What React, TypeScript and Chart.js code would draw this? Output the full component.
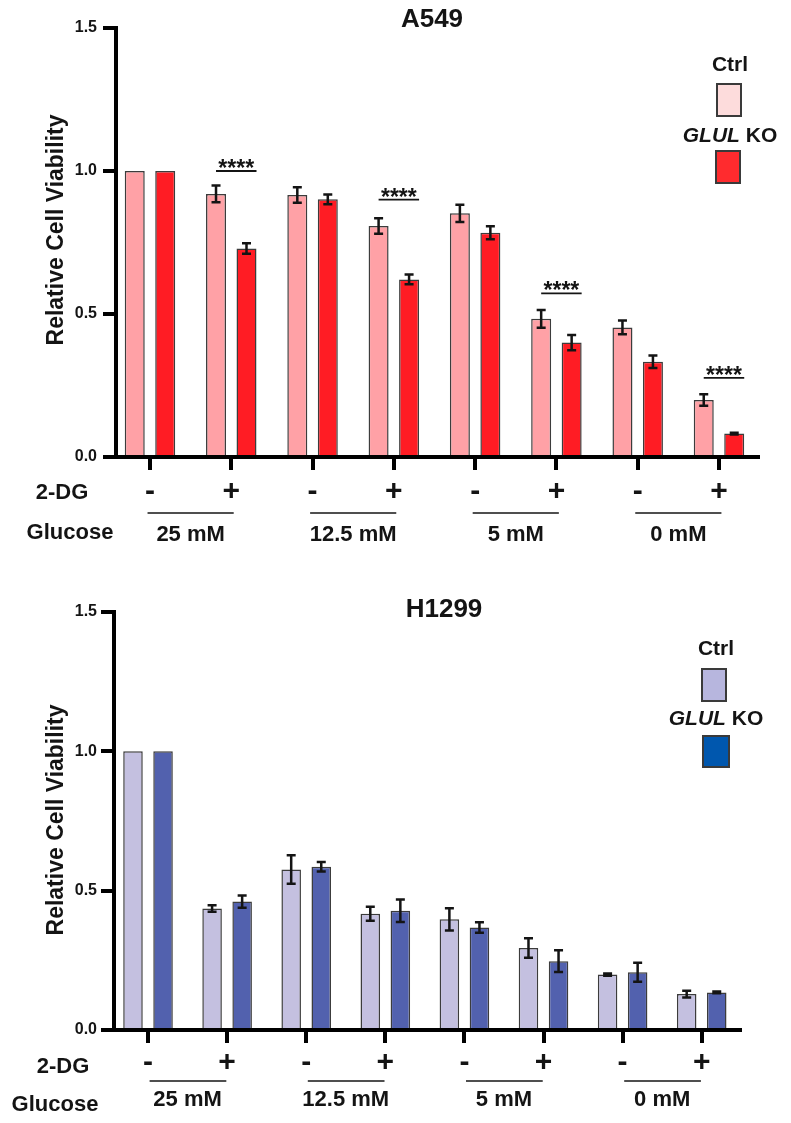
import React, { useEffect, useRef } from "react";
import { Chart, registerables } from "chart.js";

Chart.register(...registerables);

// ---------- data ----------
const GLUCOSE_LABELS = ["25 mM", "12.5 mM", "5 mM", "0 mM"];
const DG_LABELS = ["-", "+", "-", "+", "-", "+", "-", "+"];
const SERIES_NAMES = ["Ctrl", "GLUL KO"];

const A549_CTRL = [1.0, 0.92, 0.916, 0.808, 0.852, 0.483, 0.453, 0.199];
const A549_CTRL_ERR = [0, 0.029, 0.027, 0.027, 0.03, 0.031, 0.024, 0.02];
const A549_KO = [1.0, 0.729, 0.901, 0.621, 0.784, 0.4, 0.333, 0.082];
const A549_KO_ERR = [0, 0.018, 0.017, 0.017, 0.023, 0.027, 0.022, 0.003];
const A549_SIG_INDEX = [1, 3, 5, 7];
const A549_SIG_LEVEL = [1.0, 0.9, 0.572, 0.277];
const SIG_TEXT = "****";

const H1299_CTRL = [1.0, 0.436, 0.576, 0.417, 0.397, 0.294, 0.199, 0.129];
const H1299_CTRL_ERR = [0, 0.012, 0.051, 0.025, 0.04, 0.035, 0.004, 0.012];
const H1299_KO = [1.0, 0.461, 0.586, 0.428, 0.368, 0.247, 0.207, 0.135];
const H1299_KO_ERR = [0, 0.022, 0.017, 0.04, 0.019, 0.039, 0.034, 0.003];

const FAMILY = '"Liberation Sans", Arial, Helvetica, sans-serif';
const INK = "#141414";

type Spec = {
  height: number;
  title: string;
  titleX: number;
  titleY: number;
  ctrl: number[];
  ctrlErr: number[];
  ko: number[];
  koErr: number[];
  ctrlColor: string;
  koColor: string;
  ctrlLegend: string;
  koLegend: string;
  padTop: number;
  padRight: number;
  yWidth: number;
  xAxisHeight: number;
  xMin: number;
  xMax: number;
  cp: number;
  bp: number;
  tickLabelPad: number;
  yLabelPad: number;
  yTitleX: number;
  yTitleY: number;
  dgX: number;
  dgY: number;
  glucoseX: number;
  glucoseY: number;
  groupLabelY: number;
  groupLineY: number;
  lineFrom: number;
  lineTo: number;
  legendX: number;
  ctrlTextY: number;
  ctrlBox: number[];
  koTextY: number;
  koBox: number[];
  sigIndex?: number[];
  sigLevel?: number[];
};

function makeConfig(s: Spec): any {
  const decor = {
    id: "decor",
    afterDatasetsDraw(chart: any) {
      const ctx = chart.ctx;
      const yScale = chart.scales.y;
      const errs = [s.ctrlErr, s.koErr];
      const vals = [s.ctrl, s.ko];
      ctx.save();
      ctx.strokeStyle = INK;
      ctx.lineWidth = 2.5;
      for (let d = 0; d < 2; d++) {
        const meta = chart.getDatasetMeta(d);
        meta.data.forEach((bar: any, i: number) => {
          const e = errs[d][i];
          if (!e) return;
          const v = vals[d][i];
          const x = bar.x;
          const yTop = yScale.getPixelForValue(v + e);
          const yBot = yScale.getPixelForValue(v - e);
          ctx.beginPath();
          ctx.moveTo(x, yTop);
          ctx.lineTo(x, yBot);
          ctx.moveTo(x - 4.5, yTop);
          ctx.lineTo(x + 4.5, yTop);
          ctx.moveTo(x - 4.5, yBot);
          ctx.lineTo(x + 4.5, yBot);
          ctx.stroke();
        });
      }
      ctx.restore();
    },
    afterDraw(chart: any) {
      const ctx = chart.ctx;
      const xScale = chart.scales.x;
      const yScale = chart.scales.y;
      ctx.save();
      ctx.fillStyle = INK;
      ctx.strokeStyle = INK;

      // title
      ctx.font = `bold 26px ${FAMILY}`;
      ctx.textAlign = "center";
      ctx.textBaseline = "middle";
      ctx.fillText(s.title, s.titleX, s.titleY);

      // y title
      ctx.save();
      ctx.translate(s.yTitleX, s.yTitleY);
      ctx.rotate(-Math.PI / 2);
      ctx.font = `bold 23px ${FAMILY}`;
      ctx.fillText("Relative Cell Viability", 0, 0);
      ctx.restore();

      // row labels
      ctx.font = `bold 22px ${FAMILY}`;
      ctx.fillText("2-DG", s.dgX, s.dgY);
      ctx.fillText("Glucose", s.glucoseX, s.glucoseY);

      // glucose groups
      GLUCOSE_LABELS.forEach((lab, g) => {
        const cx = xScale.getPixelForValue(2 * g + 0.5);
        ctx.fillText(lab, cx, s.groupLabelY);
        const x1 = xScale.getPixelForValue(2 * g + s.lineFrom);
        const x2 = xScale.getPixelForValue(2 * g + 1 + s.lineTo);
        ctx.lineWidth = 1.6;
        ctx.beginPath();
        ctx.moveTo(x1, s.groupLineY);
        ctx.lineTo(x2, s.groupLineY);
        ctx.stroke();
      });

      // significance
      if (s.sigIndex && s.sigLevel) {
        const m0 = chart.getDatasetMeta(0);
        const m1 = chart.getDatasetMeta(1);
        s.sigIndex.forEach((idx, k) => {
          const x1 = m0.data[idx].x;
          const b = m1.data[idx];
          const x2 = b.x + b.width / 2;
          const y = yScale.getPixelForValue(s.sigLevel![k]);
          ctx.lineWidth = 1.8;
          ctx.beginPath();
          ctx.moveTo(x1, y);
          ctx.lineTo(x2, y);
          ctx.stroke();
          ctx.font = `bold 23px ${FAMILY}`;
          ctx.textBaseline = "alphabetic";
          ctx.fillText(SIG_TEXT, (x1 + x2) / 2, y + 5);
          ctx.textBaseline = "middle";
        });
      }

      // legend
      ctx.font = `bold 21px ${FAMILY}`;
      ctx.fillText(SERIES_NAMES[0], s.legendX, s.ctrlTextY);
      const italic = `italic bold 21px ${FAMILY}`;
      const normal = `bold 21px ${FAMILY}`;
      ctx.font = italic;
      const w1 = ctx.measureText("GLUL").width;
      ctx.font = normal;
      const w2 = ctx.measureText(" KO").width;
      const start = s.legendX - (w1 + w2) / 2;
      ctx.textAlign = "left";
      ctx.font = italic;
      ctx.fillText("GLUL", start, s.koTextY);
      ctx.font = normal;
      ctx.fillText(" KO", start + w1, s.koTextY);

      const drawBox = (b: number[], color: string) => {
        ctx.fillStyle = color;
        ctx.fillRect(b[0], b[1], b[2], b[3]);
        ctx.lineWidth = 2;
        ctx.strokeStyle = "#3a3a3a";
        ctx.strokeRect(b[0], b[1], b[2], b[3]);
      };
      drawBox(s.ctrlBox, s.ctrlLegend);
      drawBox(s.koBox, s.koLegend);
      ctx.restore();
    },
  };

  const ds = (label: string, values: number[], color: string) => ({
    label,
    data: values.map((v, i) => ({ x: i, y: v })),
    backgroundColor: color,
    borderColor: "#3c3c3c",
    borderWidth: 1.5,
    categoryPercentage: s.cp,
    barPercentage: s.bp,
  });

  return {
    type: "bar",
    data: {
      datasets: [
        ds(SERIES_NAMES[0], s.ctrl, s.ctrlColor),
        ds(SERIES_NAMES[1], s.ko, s.koColor),
      ],
    },
    options: {
      responsive: false,
      animation: false,
      events: [],
      layout: { padding: { top: s.padTop, right: s.padRight, bottom: 0, left: 0 } },
      plugins: {
        legend: { display: false },
        tooltip: { enabled: false },
        title: { display: false },
      },
      scales: {
        x: {
          type: "linear",
          min: s.xMin,
          max: s.xMax,
          offset: false,
          z: 1,
          border: { display: true, width: 4, color: "#000" },
          grid: {
            display: true,
            offset: false,
            drawOnChartArea: false,
            drawTicks: true,
            tickLength: 13,
            lineWidth: 4,
            color: "#000",
          },
          ticks: {
            stepSize: 1,
            includeBounds: false,
            autoSkip: false,
            maxRotation: 0,
            minRotation: 0,
            padding: s.tickLabelPad,
            color: INK,
            font: { family: FAMILY, size: 30, weight: "bold" },
            callback: (v: number) => DG_LABELS[v] ?? "",
          },
          afterFit: (sc: any) => {
            sc.height = s.xAxisHeight;
          },
        },
        y: {
          type: "linear",
          min: 0,
          max: 1.5,
          border: { display: true, width: 4, color: "#000" },
          grid: {
            display: true,
            drawOnChartArea: false,
            drawTicks: true,
            tickLength: 13,
            lineWidth: 4,
            color: "#000",
          },
          ticks: {
            stepSize: 0.5,
            padding: s.yLabelPad,
            color: INK,
            font: { family: FAMILY, size: 16, weight: "bold" },
            callback: (v: number) => Number(v).toFixed(1),
          },
          afterFit: (sc: any) => {
            sc.width = s.yWidth;
          },
        },
      },
    },
    plugins: [decor],
  };
}

const TOP: Spec = {
  height: 560,
  title: "A549",
  titleX: 432,
  titleY: 20,
  ctrl: A549_CTRL,
  ctrlErr: A549_CTRL_ERR,
  ko: A549_KO,
  koErr: A549_KO_ERR,
  ctrlColor: "#FFA1A6",
  koColor: "#FF1C24",
  ctrlLegend: "#FDDCDC",
  koLegend: "#FF2B2E",
  padTop: 28,
  padRight: 33,
  yWidth: 116,
  xAxisHeight: 103,
  xMin: -0.418,
  xMax: 7.48,
  cp: 0.75,
  bp: 0.656,
  tickLabelPad: 4,
  yLabelPad: 6,
  yTitleX: 57,
  yTitleY: 230,
  dgX: 62,
  dgY: 493,
  glucoseX: 70,
  glucoseY: 533,
  groupLabelY: 535,
  groupLineY: 513,
  lineFrom: -0.03,
  lineTo: 0.03,
  legendX: 730,
  ctrlTextY: 65,
  ctrlBox: [717, 84, 24, 32],
  koTextY: 136,
  koBox: [716, 151, 24, 32],
  sigIndex: A549_SIG_INDEX,
  sigLevel: A549_SIG_LEVEL,
};

const BOTTOM: Spec = {
  height: 563,
  title: "H1299",
  titleX: 444,
  titleY: 50,
  ctrl: H1299_CTRL,
  ctrlErr: H1299_CTRL_ERR,
  ko: H1299_KO,
  koErr: H1299_KO_ERR,
  ctrlColor: "#C4C0E0",
  koColor: "#5261AE",
  ctrlLegend: "#B7B6DE",
  koLegend: "#0057AE",
  padTop: 52,
  padRight: 51,
  yWidth: 114,
  xAxisHeight: 93,
  xMin: -0.43,
  xMax: 7.484,
  cp: 0.76,
  bp: 0.65,
  tickLabelPad: 2,
  yLabelPad: 4,
  yTitleX: 57,
  yTitleY: 260,
  dgX: 63,
  dgY: 507,
  glucoseX: 55,
  glucoseY: 545,
  groupLabelY: 540,
  groupLineY: 521,
  lineFrom: 0.02,
  lineTo: -0.01,
  legendX: 716,
  ctrlTextY: 89,
  ctrlBox: [702, 109, 24, 32],
  koTextY: 159,
  koBox: [703, 176, 26, 31],
};

function Panel({ spec, top }: { spec: Spec; top: number }) {
  const ref = useRef<HTMLCanvasElement | null>(null);
  useEffect(() => {
    if (!ref.current) return;
    const chart = new Chart(ref.current, makeConfig(spec));
    return () => chart.destroy();
  }, [spec]);
  return (
    <canvas
      ref={ref}
      width={791}
      height={spec.height}
      style={{ position: "absolute", left: 0, top, width: 791, height: spec.height, display: "block" }}
    />
  );
}

export default function App() {
  return (
    <div
      style={{
        position: "absolute",
        left: 0,
        top: 0,
        width: 791,
        height: 1123,
        background: "#ffffff",
        overflow: "hidden",
      }}
    >
      <Panel spec={TOP} top={0} />
      <Panel spec={BOTTOM} top={560} />
    </div>
  );
}
